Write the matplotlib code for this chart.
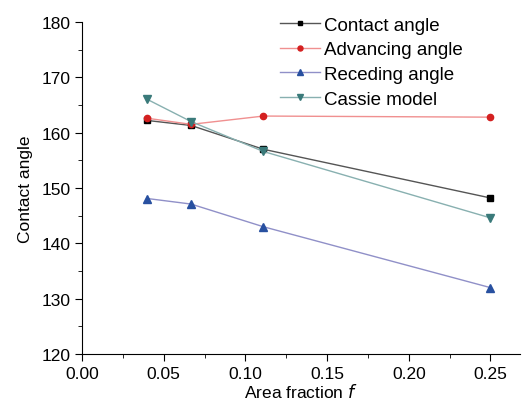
import matplotlib.pyplot as plt
import numpy as np

"""Data"""

f = [0.04, 0.0667, 0.111, 0.25]
contact = [162.2, 161.3, 157.0, 148.2]
advancing = [162.6, 161.5, 163.0, 162.8]
receding = [148.1, 147.1, 143.0, 132.0]
cassie = [166.0, 162.0, 156.6, 144.6]

"""Plot"""

plt.rcParams['font.family'] = 'Liberation Sans'
fig = plt.figure(figsize=(5.23, 4.10), dpi=100)
ax = fig.add_axes([0.157, 0.134, 0.837, 0.810])

ax.plot(f, contact, '-', color='#555555', lw=1.0, marker='s', ms=4,
        mfc='black', mec='black', label='Contact angle')
ax.plot(f, advancing, '-', color='#f09090', lw=1.0, marker='o', ms=4.5,
        mfc='#d42020', mec='#d42020', label='Advancing angle')
ax.plot(f, receding, '-', color='#9090c8', lw=1.0, marker='^', ms=6,
        mfc='#2850a0', mec='#2850a0', label='Receding angle')
ax.plot(f, cassie, '-', color='#88b0b0', lw=1.0, marker='v', ms=6,
        mfc='#3a7a7a', mec='#3a7a7a', label='Cassie model')

ax.set_xlim(0, 0.268)
ax.set_ylim(120, 180)
ax.set_xticks(np.arange(0, 0.26, 0.05))
ax.set_xticks(np.arange(0.025, 0.26, 0.05), minor=True)
ax.set_yticks(np.arange(120, 181, 10))
ax.set_yticks(np.arange(125, 180, 10), minor=True)
ax.xaxis.set_major_formatter(plt.FormatStrFormatter('%.2f'))
ax.tick_params(labelsize=12.5, direction='out', length=5)
ax.tick_params(which='minor', length=3)
ax.spines['top'].set_visible(False)
ax.spines['right'].set_visible(False)

ax.set_xlabel('Area fraction $\\it{f}$', fontsize=12.5, labelpad=1)
ax.set_ylabel('Contact angle', fontsize=12.5, labelpad=6)

ax.legend(loc='upper left', bbox_to_anchor=(0.518, 0.98), bbox_transform=fig.transFigure,
          frameon=False, fontsize=13.5, handlelength=2.1, handletextpad=0.25,
          labelspacing=0.4, borderpad=0, markerscale=0.8)

plt.savefig('out.png', dpi=100)
